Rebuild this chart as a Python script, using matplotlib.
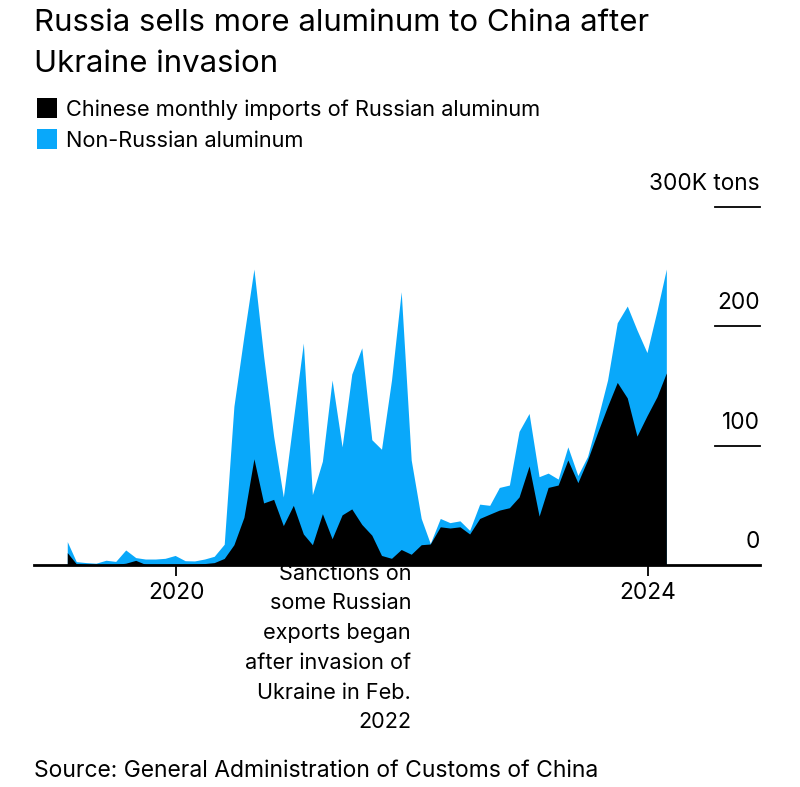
import matplotlib
matplotlib.use('Agg')
import matplotlib.pyplot as plt
import matplotlib.dates as mdates
from matplotlib.patches import Rectangle
import pandas as pd

# monthly values in thousand tons
months = pd.date_range('2019-02-01', '2024-03-01', freq='MS') - pd.Timedelta(days=3)
russian = [10.4, 1, 0.5, 0.3, 0.5, 0.5, 1.5, 3.9, 0.5, 0.5, 0.5, 0.7, 0.5, 0.7, 1.2, 2, 5.5, 17, 40, 89,
           52, 55, 33, 50, 26, 17, 43, 22, 42, 47, 34, 25, 8, 5.6, 13, 9, 17, 17.6, 32, 31,
           32, 26, 39, 42.6, 46, 48, 57, 83, 41, 65, 67, 88, 69, 88, 111, 133, 153, 140, 108, 125,
           141, 161]
total = [19.6, 2.8, 2, 1.5, 4, 3, 12.6, 6.2, 5, 5, 5.6, 8, 3.6, 3.4, 5, 7.3, 17.4, 133, 192, 248,
         175, 108, 57, 122, 186, 59, 87, 155, 99, 160, 182, 105, 97, 155, 229, 88, 39, 18, 39, 35.5,
         37, 29, 51, 50, 65, 67, 112, 127, 74, 77, 72, 99, 75, 91, 122, 155, 203, 217, 197, 178,
         213, 248]
y_ticks = [0, 100, 200, 300]
y_labels = ['0', '100', '200', '300K tons']
x_ticks = ['2020-01-01', '2024-01-01']
x_labels = ['2020', '2024']

title = 'Russia sells more aluminum to China after\nUkraine invasion'
legend_labels = ['Chinese monthly imports of Russian aluminum', 'Non-Russian aluminum']
note = 'Sanctions on\nsome Russian\nexports began\nafter invasion of\nUkraine in Feb.\n2022'
source = 'Source: General Administration of Customs of China'

BLUE = '#09A8FA'
W, H = 800, 787

plt.rcParams['font.family'] = ['Inter', 'Liberation Sans', 'DejaVu Sans']

fig = plt.figure(figsize=(8, 7.87), dpi=100)
# axes from x=34 to x=760, y=207 (300K) to y=565 (zero line), in pixels
ax = fig.add_axes([34 / W, 1 - 565 / H, 726 / W, 358 / H])
ax.fill_between(months, 0, total, color=BLUE, lw=0)
ax.fill_between(months, 0, russian, color='black', lw=0)

ax.set_ylim(0, 300)
ax.set_xlim(pd.Timestamp('2018-10-18'), pd.Timestamp('2024-12-13'))
for s in ['top', 'left', 'right']:
    ax.spines[s].set_visible(False)
ax.spines['bottom'].set_linewidth(2)
ax.set_xticks([mdates.date2num(pd.Timestamp(d)) for d in x_ticks])
ax.set_xticklabels(x_labels, fontsize=16.3)
ax.tick_params(axis='x', length=8, width=1.3, pad=4.5)
ax.set_yticks([])

# right side scale: short rule with the label sitting on it
tr = ax.get_yaxis_transform()
for v, lab in zip(y_ticks, y_labels):
    if v > 0:
        ax.plot([0.938, 1], [v, v], transform=tr, color='black', lw=1.3, clip_on=False)
    ax.annotate(lab, xy=(1, v), xycoords=tr, xytext=(0, 12), textcoords='offset pixels',
                ha='right', va='bottom', fontsize=16.3)


def px_text(x, y, s, **kw):
    fig.text(x / W, 1 - y / H, s, **kw)


px_text(34, 23, title.split('\n')[0], fontsize=22.4, va='center')
px_text(34, 64, title.split('\n')[1], fontsize=22.4, va='center')

fig.add_artist(Rectangle((37 / W, 1 - 118 / H), 20 / W, 20 / H, color='black', lw=0, transform=fig.transFigure))
fig.add_artist(Rectangle((37 / W, 1 - 149 / H), 20 / W, 20 / H, color=BLUE, lw=0, transform=fig.transFigure))
px_text(66, 110, legend_labels[0], fontsize=15.7, va='center')
px_text(66, 141, legend_labels[1], fontsize=15.7, va='center')

for i, line in enumerate(note.split('\n')):
    px_text(411, 573.5 + i * 29.8, line, fontsize=15.6, ha='right', va='center')

px_text(34, 771, source, fontsize=16.5, va='center')

fig.savefig('out.png', dpi=100)
